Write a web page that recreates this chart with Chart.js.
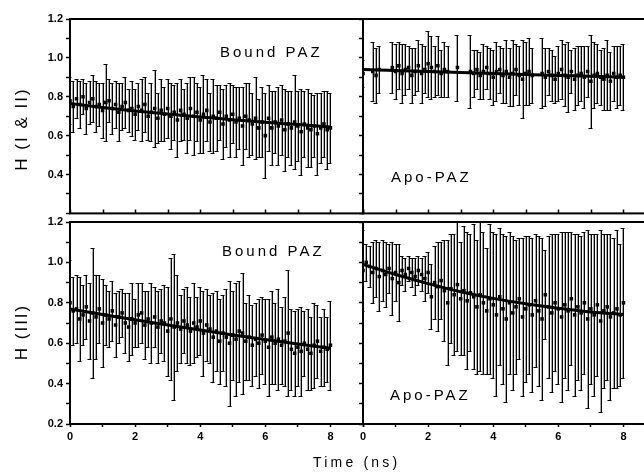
<!DOCTYPE html>
<html>
<head>
<meta charset="utf-8">
<script src="https://cdn.jsdelivr.net/npm/chart.js@4.4.1/dist/chart.umd.min.js"></script>
<style>
  html, body { margin: 0; padding: 0; width: 644px; height: 474px; overflow: hidden; background: #fff; }
  #wrap { position: relative; width: 644px; height: 474px; overflow: hidden; }
  canvas { position: absolute; }
  .lbl { position: absolute; font-family: Arial, "Liberation Sans", sans-serif; color: #000; white-space: nowrap; line-height: 1; }
  .panel-label { font-size: 15px; letter-spacing: 3px; transform: translateY(-50%); }
  .ytitle { font-size: 17px; letter-spacing: 2px; transform: translate(-50%, -50%) rotate(-90deg); }
  #xtitle { left: 313px; top: 462px; font-size: 14px; letter-spacing: 3.2px; transform: translateY(-50%); }
</style>
</head>
<body>
<div id="wrap">
  <canvas id="cTL" width="367" height="223" style="left:0px;top:0px"></canvas>
  <canvas id="cTR" width="320" height="223" style="left:340px;top:0px"></canvas>
  <canvas id="cBL" width="367" height="266" style="left:0px;top:208px"></canvas>
  <canvas id="cBR" width="320" height="266" style="left:340px;top:208px"></canvas>

  <div class="lbl panel-label" style="left:220px;top:51px">Bound PAZ</div>
  <div class="lbl panel-label" style="left:391px;top:176px">Apo-PAZ</div>
  <div class="lbl panel-label" style="left:222px;top:250px">Bound PAZ</div>
  <div class="lbl panel-label" style="left:390px;top:394px">Apo-PAZ</div>

  <div class="lbl ytitle" style="left:21px;top:129px">H (I &amp; II)</div>
  <div class="lbl ytitle" style="left:21px;top:332px">H (III)</div>
  <div class="lbl" id="xtitle">Time (ns)</div>
</div>

<script>
// time points (ns), shared by all four panels
const timeNs = [0.0,0.1,0.2,0.3,0.4,0.5,0.6,0.7,0.8,0.9,
  1.0,1.1,1.2,1.3,1.4,1.5,1.6,1.7,1.8,1.9,
  2.0,2.1,2.2,2.3,2.4,2.5,2.6,2.7,2.8,2.9,
  3.0,3.1,3.2,3.3,3.4,3.5,3.6,3.7,3.8,3.9,
  4.0,4.1,4.2,4.3,4.4,4.5,4.6,4.7,4.8,4.9,
  5.0,5.1,5.2,5.3,5.4,5.5,5.6,5.7,5.8,5.9,
  6.0,6.1,6.2,6.3,6.4,6.5,6.6,6.7,6.8,6.9,
  7.0,7.1,7.2,7.3,7.4,7.5,7.6,7.7,7.8,7.9,
  8.0];

// H (I & II), Bound PAZ
const boundHI = [0.78,0.75,0.79,0.76,0.80,0.74,0.77,0.79,0.75,0.76,
  0.73,0.77,0.78,0.74,0.76,0.72,0.75,0.77,0.73,0.74,
  0.71,0.75,0.73,0.76,0.70,0.72,0.74,0.69,0.73,0.71,
  0.74,0.70,0.72,0.68,0.73,0.71,0.69,0.74,0.70,0.72,
  0.68,0.71,0.73,0.67,0.70,0.69,0.72,0.66,0.70,0.68,
  0.71,0.67,0.69,0.65,0.70,0.68,0.66,0.69,0.64,0.67,
  0.60,0.69,0.64,0.67,0.65,0.68,0.63,0.66,0.64,0.67,
  0.65,0.62,0.66,0.64,0.63,0.65,0.61,0.64,0.66,0.63,
  0.64];
const boundHIErr = [0.12,0.13,0.10,0.12,0.09,0.13,0.11,0.12,0.13,0.11,
  0.14,0.20,0.11,0.13,0.12,0.15,0.12,0.13,0.11,0.14,
  0.13,0.12,0.16,0.14,0.12,0.15,0.20,0.13,0.16,0.14,
  0.15,0.17,0.14,0.19,0.16,0.13,0.18,0.16,0.20,0.15,
  0.17,0.20,0.16,0.15,0.19,0.17,0.14,0.18,0.16,0.19,
  0.15,0.18,0.16,0.20,0.17,0.19,0.16,0.21,0.15,0.18,
  0.22,0.17,0.19,0.16,0.20,0.18,0.21,0.17,0.19,0.24,
  0.18,0.22,0.17,0.20,0.19,0.16,0.21,0.18,0.17,0.20,
  0.18];

// H (I & II), Apo-PAZ (null = no point)
const apoHI = [0.92,null,null,0.93,0.91,0.94,null,null,null,0.95,
  0.93,0.96,0.92,0.94,0.95,0.91,0.93,0.96,0.92,0.94,
  0.97,0.95,0.93,0.96,0.92,0.94,0.93,null,null,0.95,
  null,null,null,0.93,0.92,0.94,0.91,0.93,0.95,0.92,
  0.90,0.93,0.94,0.91,0.93,0.90,0.92,0.94,0.91,0.89,
  0.92,0.93,0.91,null,null,0.92,0.90,0.93,0.91,0.89,
  0.92,0.94,0.91,0.90,0.93,0.89,0.91,0.92,0.90,0.93,
  0.88,0.91,0.92,0.90,0.89,0.91,0.88,0.92,0.90,0.91,
  0.90];
const apoHIErr = [0.07,null,null,0.15,0.14,0.12,null,null,null,0.13,
  0.14,0.12,0.15,0.13,0.11,0.14,0.12,0.13,0.15,0.12,
  0.17,0.16,0.13,0.15,0.12,0.14,0.13,null,null,0.17,
  null,null,null,0.19,0.12,0.10,0.12,0.14,0.11,0.13,
  0.14,0.15,0.12,0.14,0.16,0.15,0.17,0.13,0.15,0.20,
  0.16,0.17,0.14,null,null,0.18,0.15,0.12,0.13,0.12,
  0.14,0.15,0.16,0.18,0.11,0.16,0.15,0.14,0.16,0.13,
  0.24,0.17,0.15,0.14,0.16,0.18,0.15,0.14,0.16,0.15,
  0.17];

// H (III), Bound PAZ
const boundHIII = [0.80,0.76,0.77,0.72,0.74,0.78,0.71,0.75,0.73,0.77,
  0.70,0.74,0.72,0.76,0.69,0.73,0.75,0.70,0.68,0.72,
  0.70,0.74,0.75,0.69,0.72,0.70,0.73,0.68,0.71,0.70,
  0.66,0.72,0.68,0.70,0.67,0.71,0.69,0.66,0.70,0.68,
  0.71,0.65,0.69,0.67,0.63,0.66,0.61,0.65,0.63,0.60,
  0.64,0.62,0.66,0.65,0.61,0.63,0.59,0.62,0.60,0.64,
  0.61,0.58,0.63,0.60,0.62,0.59,0.61,0.65,0.57,0.55,
  0.58,0.56,0.60,0.57,0.55,0.59,0.61,0.56,0.58,0.57,
  0.59];
const boundHIIIErr = [0.21,0.17,0.17,0.21,0.15,0.16,0.19,0.32,0.21,0.17,
  0.22,0.15,0.14,0.15,0.16,0.13,0.12,0.15,0.17,0.18,
  0.12,0.16,0.15,0.17,0.14,0.20,0.15,0.18,0.16,0.19,
  0.22,0.30,0.36,0.24,0.17,0.16,0.19,0.17,0.20,0.15,
  0.17,0.21,0.18,0.17,0.22,0.20,0.21,0.19,0.24,0.31,
  0.22,0.28,0.25,0.30,0.19,0.21,0.20,0.18,0.22,0.19,
  0.21,0.24,0.23,0.20,0.25,0.19,0.22,0.31,0.20,0.21,
  0.19,0.22,0.16,0.20,0.18,0.21,0.18,0.17,0.19,0.16,
  0.22];

// H (III), Apo-PAZ
const apoHIII = [0.96,1.00,0.98,0.95,0.97,0.93,0.96,0.94,0.97,0.92,
  0.95,0.90,0.96,0.94,0.97,0.95,0.93,0.96,0.94,0.92,
  0.95,0.83,0.90,0.88,0.91,0.86,0.80,0.87,0.84,0.89,
  0.82,0.86,0.81,0.85,0.83,0.78,0.84,0.80,0.76,0.82,
  0.79,0.74,0.83,0.77,0.72,0.80,0.75,0.78,0.82,0.73,
  0.77,0.79,0.74,0.81,0.76,0.72,0.84,0.78,0.75,0.80,
  0.77,0.73,0.79,0.76,0.82,0.74,0.78,0.75,0.80,0.72,
  0.77,0.74,0.79,0.71,0.76,0.78,0.73,0.75,0.77,0.74,
  0.80];
const apoHIIIErr = [0.20,0.09,0.10,0.15,0.14,0.17,0.15,0.16,0.12,0.18,
  0.14,0.19,0.07,0.08,0.06,0.07,0.09,0.07,0.08,0.11,
  0.10,0.16,0.18,0.22,0.19,0.25,0.31,0.27,0.30,0.33,
  0.28,0.32,0.34,0.29,0.36,0.33,0.38,0.35,0.31,0.37,
  0.36,0.40,0.34,0.37,0.41,0.35,0.38,0.33,0.30,0.39,
  0.36,0.34,0.38,0.33,0.37,0.40,0.22,0.35,0.39,0.34,
  0.37,0.42,0.36,0.39,0.33,0.40,0.36,0.38,0.35,0.44,
  0.37,0.40,0.35,0.45,0.38,0.36,0.41,0.37,0.39,0.35,
  0.37];

// fitted decay curves, read at whole nanoseconds
const fitTime = [0, 1, 2, 3, 4, 5, 6, 7, 8];
const boundHIFit = [0.765, 0.745, 0.727, 0.711, 0.696, 0.682, 0.669, 0.657, 0.645];
const apoHIFit = [0.940, 0.935, 0.930, 0.925, 0.920, 0.915, 0.910, 0.905, 0.900];
const boundHIIIFit = [0.770, 0.742, 0.716, 0.690, 0.665, 0.641, 0.618, 0.596, 0.575];
const apoHIIIFit = [0.990, 0.940, 0.895, 0.855, 0.822, 0.795, 0.773, 0.755, 0.742];

const tickFont = { family: 'Arial, "Liberation Sans", sans-serif', size: 11, weight: 'bold' };

function buildRows(means, errs) {
  const rows = [];
  timeNs.forEach((t, i) => {
    if (means[i] === null) return;
    rows.push({ x: t, y: means[i], err: errs[i] });
  });
  return rows;
}

// vertical error bars with caps, drawn under the points
const errorBarPlugin = {
  id: 'errorBars',
  beforeDatasetsDraw(chart) {
    const { ctx, chartArea, scales } = chart;
    ctx.save();
    ctx.beginPath();
    ctx.rect(chartArea.left, chartArea.top, chartArea.width, chartArea.height);
    ctx.clip();
    ctx.lineWidth = 1;
    chart.data.datasets.forEach(ds => {
      if (!ds.errorBars) return;
      ds.data.forEach(p => {
        const x = Math.round(scales.x.getPixelForValue(p.x)) + 0.5;
        const yTop = Math.round(scales.y.getPixelForValue(p.y + p.err)) + 0.5;
        const yBot = Math.round(scales.y.getPixelForValue(p.y - p.err)) + 0.5;
        ctx.strokeStyle = '#555';
        ctx.setLineDash([1, 1]);
        ctx.beginPath();
        ctx.moveTo(x - 1, yTop);
        ctx.lineTo(x - 1, yBot);
        ctx.stroke();
        ctx.setLineDash([]);
        ctx.strokeStyle = '#000';
        ctx.beginPath();
        ctx.moveTo(x, yTop);
        ctx.lineTo(x, yBot);
        ctx.moveTo(x - 3, yTop);
        ctx.lineTo(x + 1, yTop);
        ctx.moveTo(x - 3, yBot);
        ctx.lineTo(x + 1, yBot);
        ctx.stroke();
      });
    });
    ctx.restore();
  }
};

// box round each panel
const framePlugin = {
  id: 'frame',
  afterDraw(chart) {
    const { ctx, chartArea } = chart;
    ctx.save();
    ctx.strokeStyle = '#000';
    ctx.lineWidth = 2;
    ctx.strokeRect(chartArea.left, chartArea.top, chartArea.width, chartArea.height);
    ctx.restore();
  }
};

// top panels have their time ticks pointing into the plot
const innerTickPlugin = {
  id: 'innerTicks',
  afterDraw(chart) {
    if (!chart.options.plugins.innerTicks || !chart.options.plugins.innerTicks.enabled) return;
    const { ctx, chartArea, scales } = chart;
    ctx.save();
    ctx.strokeStyle = '#000';
    ctx.lineWidth = 1.5;
    ctx.beginPath();
    scales.x.ticks.forEach(t => {
      const x = Math.round(scales.x.getPixelForValue(t.value)) + 0.5;
      ctx.moveTo(x, chartArea.bottom);
      ctx.lineTo(x, chartArea.bottom - 4);
    });
    ctx.stroke();
    ctx.restore();
  }
};

function makePanel(canvasId, means, errs, fit, opts) {
  const yLabel = v => {
    const k = Math.round(v * 10);
    if (!opts.yLabels || k % 2 !== 0) return '';
    if (opts.hideBottomY && k === 2) return '';
    return (k / 10).toFixed(1);
  };
  const xLabel = v => (opts.xLabels && v % 2 === 0 && v <= 8) ? String(v) : '';

  return new Chart(document.getElementById(canvasId), {
    type: 'scatter',
    data: {
      datasets: [
        {
          type: 'line',
          data: fitTime.map((t, i) => ({ x: t, y: fit[i] })),
          borderColor: '#000',
          borderWidth: 3,
          pointRadius: 0,
          tension: 0.4,
          fill: false
        },
        {
          data: buildRows(means, errs),
          errorBars: true,
          backgroundColor: '#000',
          borderColor: '#000',
          borderWidth: 0,
          pointStyle: 'rect',
          pointRadius: 2.5
        }
      ]
    },
    options: {
      responsive: false,
      animation: false,
      layout: { padding: { top: opts.padTop, right: opts.padRight, left: 0, bottom: 0 } },
      plugins: {
        legend: { display: false },
        tooltip: { enabled: false },
        innerTicks: { enabled: opts.innerXTicks }
      },
      scales: {
        x: {
          type: 'linear', min: 0, max: 9,
          border: { display: false },
          grid: { drawOnChartArea: false, drawTicks: !opts.innerXTicks, tickLength: 3, color: '#000', tickWidth: 1.5 },
          ticks: { stepSize: 1, autoSkip: false, maxRotation: 0, padding: 3, color: '#000', font: tickFont, callback: xLabel },
          afterFit: s => { s.height = opts.xHeight; }
        },
        y: {
          type: 'linear', min: 0.2, max: 1.2,
          border: { display: false },
          grid: { drawOnChartArea: false, drawTicks: true, tickLength: 4, color: '#000', tickWidth: 1.5 },
          ticks: { stepSize: 0.1, autoSkip: false, padding: 3, color: '#000', font: tickFont, callback: yLabel },
          afterFit: s => { s.width = opts.yWidth; }
        }
      }
    },
    plugins: [errorBarPlugin, framePlugin, innerTickPlugin]
  });
}

makePanel('cTL', boundHI, boundHIErr, boundHIFit,
  { yLabels: true, hideBottomY: true, xLabels: false, innerXTicks: true, padTop: 19, padRight: 4, yWidth: 70, xHeight: 1 });
makePanel('cTR', apoHI, apoHIErr, apoHIFit,
  { yLabels: false, hideBottomY: true, xLabels: false, innerXTicks: true, padTop: 19, padRight: 4, yWidth: 23, xHeight: 1 });
makePanel('cBL', boundHIII, boundHIIIErr, boundHIIIFit,
  { yLabels: true, hideBottomY: false, xLabels: true, innerXTicks: false, padTop: 14, padRight: 4, yWidth: 70, xHeight: 50 });
makePanel('cBR', apoHIII, apoHIIIErr, apoHIIIFit,
  { yLabels: false, hideBottomY: false, xLabels: true, innerXTicks: false, padTop: 14, padRight: 4, yWidth: 23, xHeight: 50 });
</script>
</body>
</html>
